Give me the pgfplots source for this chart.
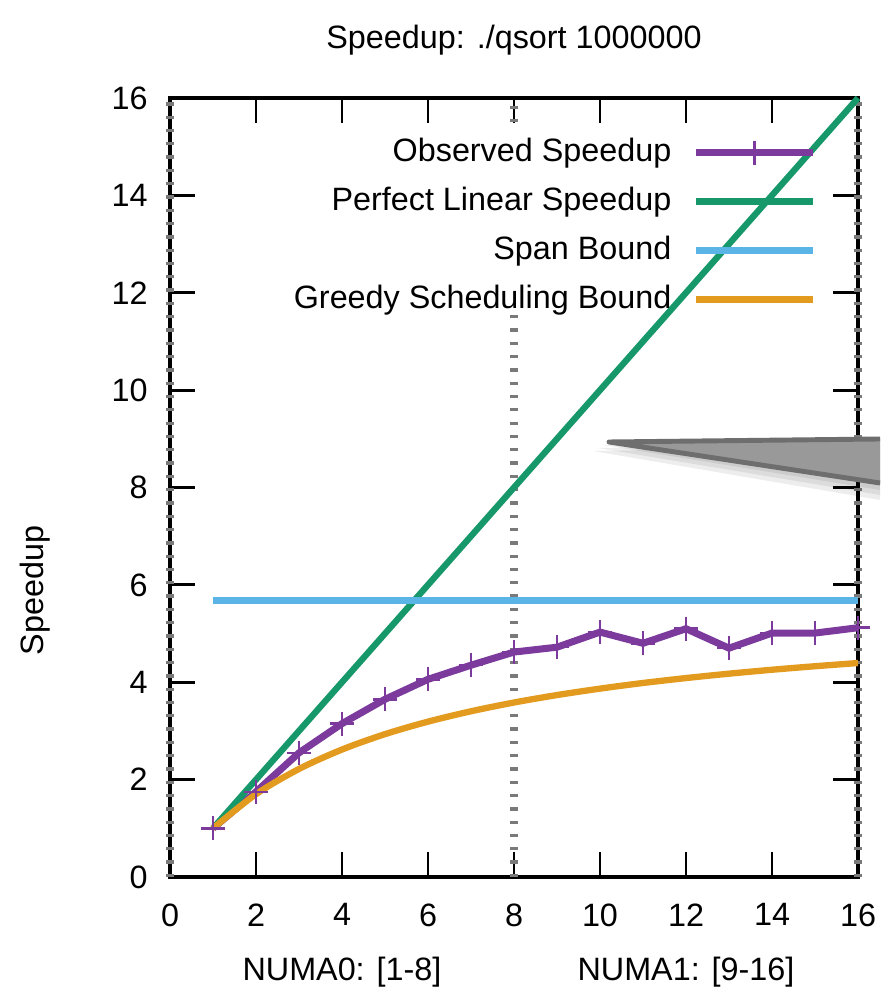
\documentclass[border=0pt]{standalone}
\usepackage{fontspec}
\setmainfont{Liberation Sans}
\usepackage{pgfplots}
\pgfplotsset{compat=1.18}
\definecolor{cobs}{HTML}{7B3A9C}
\definecolor{clin}{HTML}{17986A}
\definecolor{cspan}{HTML}{5AB4E5}
\definecolor{cgreedy}{HTML}{E39B1F}
\definecolor{cdash}{HTML}{7A7A7A}
\begin{document}
\fontsize{9.2}{11}\selectfont
\begin{tikzpicture}
\useasboundingbox (-17mm,-12.2mm) rectangle (71mm,87.7mm);
\begin{axis}[
  at={(0,0)}, anchor=south west,
  scale only axis, width=68.8mm, height=77.9mm,
  xmin=0, xmax=16, ymin=0, ymax=16,
  xtick={0,2,...,16}, ytick={0,2,...,16},
  tick align=inside, major tick length=2.5mm,
  axis line style={line width=0.9pt},
  every tick/.style={black, line width=0.8pt},
  /pgf/number format/assume math mode=true,
  tick label style={font=\fontsize{9.2}{11}\selectfont},
  yticklabel style={xshift=-1.1mm},
  xticklabel style={yshift=-1.5mm},
  clip=false,
  legend plot pos=right, legend cell align=right,
  legend image code/.code={\draw[mark repeat=2,mark phase=2,#1] plot coordinates {(0mm,0mm) (5.85mm,0mm) (11.7mm,0mm)};},
  legend style={at={(0.9405,0.95)}, anchor=north east, draw=none, fill=none, inner sep=0pt, row sep=1.9mm,
    nodes={inner sep=0pt, text height=2.4mm, text depth=0.6mm, font=\fontsize{9.2}{11}\selectfont},
    /tikz/every odd column/.append style={column sep=2.1mm}},
]
% NUMA boundary lines
\addplot[forget plot, cdash, line width=2.2pt, dash pattern=on 0.33mm off 1.0mm] coordinates {(0,0) (0,16)};
\addplot[forget plot, cdash, line width=2.2pt, dash pattern=on 0.33mm off 1.0mm] coordinates {(8,0) (8,11.7)};
\addplot[forget plot, cdash, line width=2.2pt, dash pattern=on 0.33mm off 1.0mm] coordinates {(8,15.5) (8,16)};
\addplot[forget plot, cdash, line width=2.2pt, dash pattern=on 0.33mm off 1.0mm] coordinates {(16,0) (16,16)};

\addplot[cobs, line width=2pt, mark=+, mark size=1.2mm, mark options={line width=0.7pt}] coordinates {
(1,1.00) (2,1.75) (3,2.55) (4,3.15) (5,3.65) (6,4.06) (7,4.35) (8,4.62)
(9,4.72) (10,5.03) (11,4.80) (12,5.10) (13,4.70) (14,5.01) (15,5.01) (16,5.12)};
\addlegendentry{Observed Speedup}
\addplot[clin, line width=1.8pt] coordinates {(1,1) (16,16)};
\addlegendentry{Perfect Linear Speedup}
\addplot[cspan, line width=1.8pt] coordinates {(1,5.68) (16,5.68)};
\addlegendentry{Span Bound}
\addplot[cgreedy, line width=1.8pt, smooth] coordinates {
(1,1.000) (2,1.701) (3,2.219) (4,2.618) (5,2.934) (6,3.191) (7,3.404) (8,3.584)
(9,3.737) (10,3.869) (11,3.985) (12,4.086) (13,4.176) (14,4.257) (15,4.329) (16,4.395)};
\addlegendentry{Greedy Scheduling Bound}

\node at (rel axis cs:0.5,1) [yshift=5.8mm] {Speedup: ./qsort 1000000};
\node[rotate=90] at (rel axis cs:0,0.368) [yshift=13.5mm] {Speedup};
\node at (axis cs:4,0) [yshift=-9.5mm] {NUMA0: [1-8]};
\node at (axis cs:12,0) [yshift=-9.5mm] {NUMA1: [9-16]};
\end{axis}
% callout pointer overlay (slide annotation)
\foreach \s in {0.5,1.0,1.5} {
  \fill[black, opacity=0.07] (43.8mm-\s mm,43.5mm-0.6*\s mm) -- (71mm,44.0mm-0.6*\s mm) -- (71mm,39.2mm-\s mm) -- cycle;
}
\fill[black!40] (43.8mm,43.6mm) -- (71mm,44.0mm) -- (71mm,39.2mm) -- cycle;
\draw[black!57, line width=1.4pt, line join=round] (71mm,43.8mm) -- (43.9mm,43.5mm) -- (71mm,39.4mm);
\end{tikzpicture}
\end{document}
